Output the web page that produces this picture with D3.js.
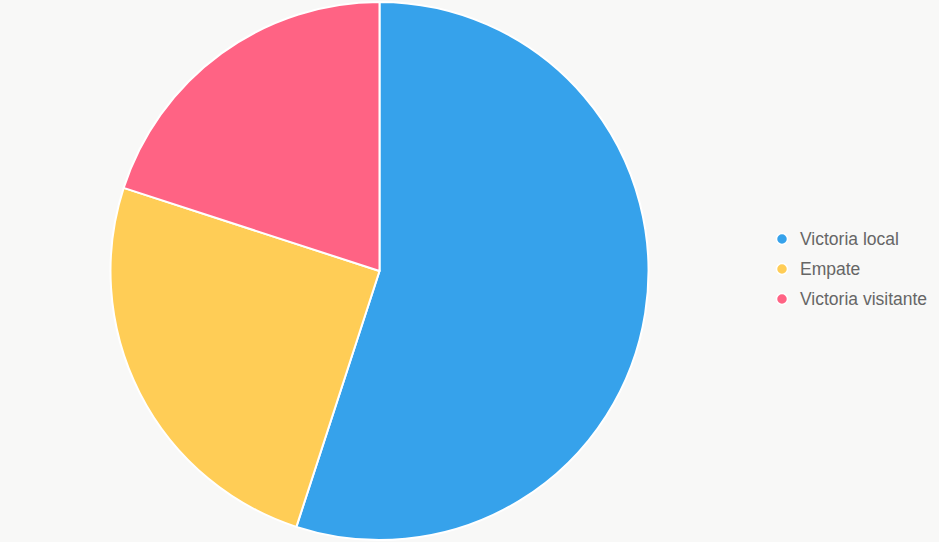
<!DOCTYPE html>
<html>
<head>
<meta charset="utf-8">
<script src="https://cdn.jsdelivr.net/npm/d3@7"></script>
<style>
  html, body { margin: 0; padding: 0; background: #f8f8f7; }
  svg { display: block; }
</style>
</head>
<body>
<script>
// result shares (%)
var labels = ['Victoria local', 'Empate', 'Victoria visitante'];
var values = [55, 25, 20];
var colors = ['#36a2eb', '#ffcd56', '#ff6384'];

var width = 939, height = 542;
var cx = 379.5, cy = 271, radius = 269;

var svg = d3.select('body').append('svg')
  .attr('width', width).attr('height', height)

var pie = d3.pie().sort(null).value(d => d)
var arc = d3.arc().innerRadius(0).outerRadius(radius)

var color = d3.scaleOrdinal().domain(labels).range(colors)

var g = svg.append('g').attr('transform', `translate(${cx}, ${cy})`)

g.selectAll('path')
  .data(pie(values))
  .enter().append('path')
    .attr('d', arc)
    .attr('fill', (d, i) => color(labels[i]))
    .attr('stroke', '#fff')
    .attr('stroke-width', 2)
    .attr('stroke-linejoin', 'round')

// legend on the right
var legendY = d3.scalePoint().domain(labels).range([239, 299])

var legend = svg.append('g').selectAll('g.item')
  .data(labels)
  .enter().append('g')
    .attr('class', 'item')
    .attr('transform', d => `translate(782, ${legendY(d)})`)

legend.append('circle')
  .attr('r', 5.5)
  .attr('fill', d => color(d))
  .attr('stroke', '#fff')
  .attr('stroke-width', 1.5)

legend.append('text')
  .attr('x', 18)
  .attr('dy', '0.35em')
  .attr('font-family', 'Arial, "Liberation Sans", sans-serif')
  .attr('font-size', 17.5)
  .attr('fill', '#666')
  .text(d => d)
</script>
</body>
</html>
